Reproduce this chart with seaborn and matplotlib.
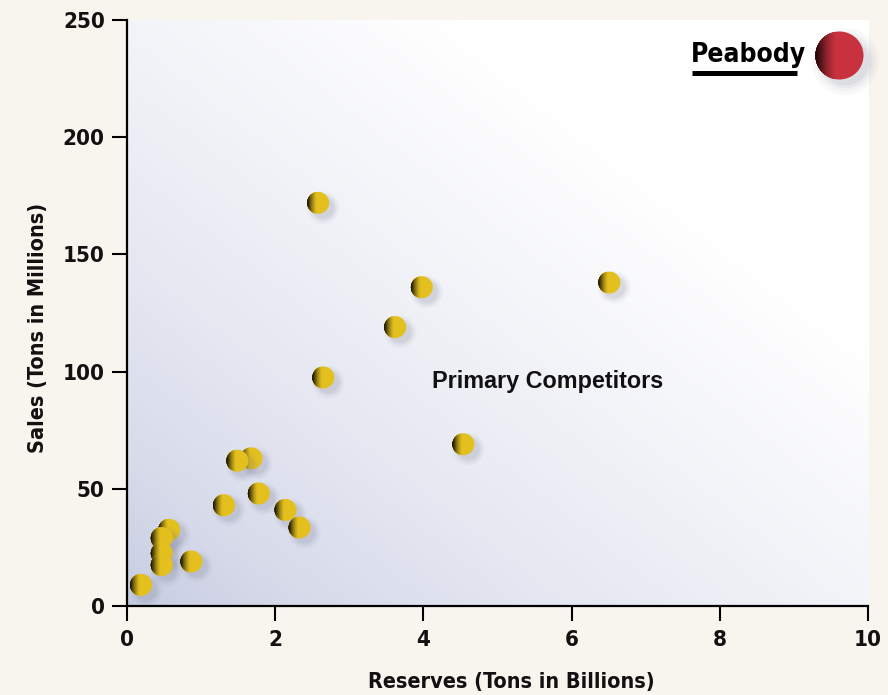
import numpy as np
import matplotlib
matplotlib.use("Agg")
import matplotlib.pyplot as plt
import seaborn as sns
from matplotlib import transforms, font_manager
from matplotlib.colors import to_rgb
from matplotlib.path import Path
from matplotlib.lines import Line2D

# Reserves (billions of tons) and annual sales (millions of tons)
reserves = [2.58, 6.51, 3.98, 3.62, 2.65, 4.54, 1.68, 1.49, 1.78, 1.31,
            2.14, 2.33, 0.57, 0.47, 0.47, 0.47, 0.87, 0.19]
sales = [172, 138, 136, 119, 97.5, 69, 63, 62, 48, 43,
         41, 33.5, 32.5, 29, 22.5, 17.5, 19, 9]
x_ticks = [0, 2, 4, 6, 8, 10]
y_ticks = [0, 50, 100, 150, 200, 250]
x_label = "Reserves (Tons in Billions)"
y_label = "Sales (Tons in Millions)"
group_label = "Primary Competitors"
brand = "Peabody"

sns.set_theme(style="white")
names = {f.name for f in font_manager.fontManager.ttflist}
narrow = "Liberation Sans Narrow" if "Liberation Sans Narrow" in names else "DejaVu Sans"
stretch = "normal" if narrow == "Liberation Sans Narrow" else "condensed"
plt.rcParams["font.family"] = ["Liberation Sans", "DejaVu Sans"]

W, H = 888, 695
fig = plt.figure(figsize=(W / 100, H / 100), dpi=100, facecolor="#F8F5EE")
L, R, T, B = 127, 868, 20, 606
ax = fig.add_axes([L / W, 1 - B / H, (R - L) / W, (B - T) / H])
ax.set_xlim(0, 10)
ax.set_ylim(0, 250)

# diagonal background wash: bluish grey at the origin fading to white
u = np.linspace(0, 1, 300)
v = np.linspace(0, 1, 300)
U, V = np.meshgrid(u, v)
t = np.clip(((U + V) / 2) / 0.72, 0, 1) ** 0.62
low = np.array([194, 200, 223]) / 255
img = low[None, None, :] + (1 - low[None, None, :]) * t[..., None]
ax.imshow(img, extent=[0, 10, 0, 250], origin="lower", aspect="auto", zorder=0)


def left_cap(c):
    """Marker path: the part of the unit disc left of the vertical line x = c."""
    th0 = np.arccos(np.clip(c, -1, 1))
    a = np.linspace(th0, 2 * np.pi - th0, 60)
    verts = np.column_stack([np.cos(a), np.sin(a)])
    verts = np.vstack([verts, verts[:1]])
    codes = [Path.MOVETO] + [Path.LINETO] * (len(verts) - 2) + [Path.CLOSEPOLY]
    return Path(verts, codes)


def mix(c0, c1, f):
    return tuple(np.array(c0) + (np.array(c1) - np.array(c0)) * f)


# horizontal shading bands, widest (lightest) first
cuts = np.linspace(-0.15, -0.97, 12)
caps = [left_cap(c) for c in cuts]


def shade_bands(dark, light):
    out = []
    n = len(cuts)
    for k in range(n):
        f = (k + 1) / n
        out.append(mix(light, dark, f ** 1.4))
    return out


gold = to_rgb("#E4C01E")
gold_bands = shade_bands(to_rgb("#0a0702"), gold)
r_pt = 7.9  # ball radius in points
diam2 = (2 * r_pt) ** 2

for i, (xv, yv) in enumerate(zip(reserves, sales)):
    z = 3 + i * 0.05
    # soft drop shadow to the lower right
    tr = transforms.offset_copy(ax.transData, fig=fig, x=3.5, y=-3.5, units="points")
    for grow, a in [(1.5, 0.04), (1.33, 0.05), (1.17, 0.07), (1.0, 0.09)]:
        sns.scatterplot(x=[xv], y=[yv], s=diam2 * grow ** 2, color="#70748a",
                        alpha=a, edgecolor="none", linewidth=0, ax=ax,
                        transform=tr, zorder=z, legend=False)
    # gold ball with a dark left edge
    sns.scatterplot(x=[xv], y=[yv], s=diam2, color=gold, edgecolor="none",
                    linewidth=0, ax=ax, zorder=z + 0.001, legend=False)
    for k, (cap, col) in enumerate(zip(caps, gold_bands)):
        sns.scatterplot(x=[xv], y=[yv], s=diam2, marker=cap, color=col,
                        edgecolor="none", linewidth=0, ax=ax,
                        zorder=z + 0.002 + 0.001 * k, legend=False)

for sp in ["top", "right"]:
    ax.spines[sp].set_visible(False)
for sp in ["left", "bottom"]:
    ax.spines[sp].set_color("black")
    ax.spines[sp].set_linewidth(1.6)
    ax.spines[sp].set_zorder(10)

ax.set_xticks(x_ticks)
ax.set_yticks(y_ticks)
ax.tick_params(axis="both", direction="out", length=11, width=1.5, color="black",
               bottom=True, left=True)
ax.tick_params(axis="x", pad=6)
ax.tick_params(axis="y", pad=5)
for lab in ax.get_xticklabels() + ax.get_yticklabels():
    lab.set_fontfamily(narrow)
    lab.set_fontstretch(stretch)
    lab.set_fontweight("bold")
    lab.set_fontsize(16)
    lab.set_color("#111111")

ax.set_xlabel(x_label, fontfamily=narrow, fontstretch=stretch, fontweight="bold",
              fontsize=15.5, color="#111111")
ax.xaxis.set_label_coords((511 - L) / (R - L), -(682 - B) / (B - T))
ax.set_ylabel(y_label, fontfamily=narrow, fontstretch=stretch, fontweight="bold",
              fontsize=15.5, color="#111111")
ax.yaxis.set_label_coords(-(L - 38) / (R - L), (B - 328) / (B - T))
ax.xaxis.label.set_va("center")
ax.yaxis.label.set_va("center")

ax.text(4.12, 95.6, group_label, fontsize=16.8, fontweight="bold", color="#111111",
        ha="left", va="center", zorder=12)

# brand mark in the upper right
fig.text(691 / W, 1 - 55 / H, brand, fontfamily=narrow, fontstretch=stretch,
         fontweight="heavy", fontsize=19, color="black", ha="left", va="center",
         zorder=20)
fig.add_artist(Line2D([692 / W, 797 / W], [1 - 72.5 / H, 1 - 72.5 / H], color="black",
                      linewidth=3.6, solid_capstyle="butt", zorder=20))

lax = fig.add_axes([800 / W, 1 - 100 / H, 80 / W, 80 / H], zorder=20)
lax.set_xlim(-1, 1)
lax.set_ylim(-1, 1)
lax.axis("off")
lax.patch.set_alpha(0)
red = to_rgb("#C8323F")
red_bands = shade_bands(to_rgb("#1a0305"), red)
logo_d2 = (2 * 24 * 0.72) ** 2
lx, ly = [(839 - 840) / 40], [(60 - 55) / 40]
ltr = transforms.offset_copy(lax.transData, fig=fig, x=4, y=-4, units="points")
for grow, a in [(1.4, 0.04), (1.25, 0.05), (1.12, 0.07), (1.0, 0.09)]:
    lax.scatter(lx, ly, s=logo_d2 * grow ** 2, color="#70748a", alpha=a, lw=0,
                transform=ltr)
lax.scatter(lx, ly, s=logo_d2, color=red, lw=0)
for cap, col in zip(caps, red_bands):
    lax.scatter(lx, ly, s=logo_d2, marker=cap, color=col, lw=0)

fig.savefig("out.png", dpi=100, facecolor=fig.get_facecolor())
